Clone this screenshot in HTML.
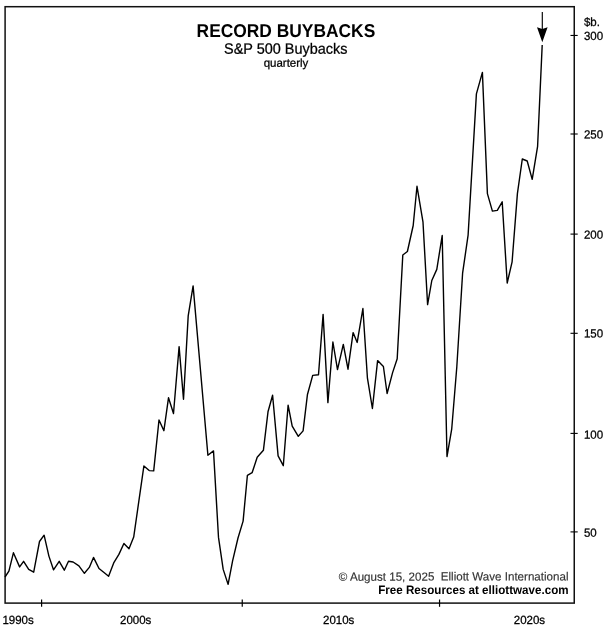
<!DOCTYPE html>
<html lang="en">
<head>
<meta charset="utf-8">
<title>Record Buybacks</title>
<style>
html,body{margin:0;padding:0;background:#fff;}
body{width:613px;height:633px;overflow:hidden;}
svg{display:block;}
text{font-family:"Liberation Sans",Arial,Helvetica,sans-serif;fill:#000;white-space:pre;}
</style>
</head>
<body>
<svg width="613" height="633" viewBox="0 0 613 633" role="img" aria-label="Record Buybacks chart">
<rect x="0" y="0" width="613" height="633" fill="#ffffff"/>
<rect x="5.1" y="6.7" width="569.15" height="596.4" fill="none" stroke="#111" stroke-width="1.5"/>
<line x1="570.5" y1="35.45" x2="577.7" y2="35.45" stroke="#000" stroke-width="1.1"/>
<line x1="570.5" y1="134.0" x2="577.7" y2="134.0" stroke="#000" stroke-width="1.1"/>
<line x1="570.5" y1="234.1" x2="577.7" y2="234.1" stroke="#000" stroke-width="1.1"/>
<line x1="570.5" y1="333.3" x2="577.7" y2="333.3" stroke="#000" stroke-width="1.1"/>
<line x1="570.5" y1="433.4" x2="577.7" y2="433.4" stroke="#000" stroke-width="1.1"/>
<line x1="570.5" y1="531.9" x2="577.7" y2="531.9" stroke="#000" stroke-width="1.1"/>
<line x1="41.6" y1="599.5" x2="41.6" y2="606.8" stroke="#000" stroke-width="1.2"/>
<line x1="242.25" y1="599.5" x2="242.25" y2="606.8" stroke="#000" stroke-width="1.2"/>
<line x1="439.55" y1="599.5" x2="439.55" y2="606.8" stroke="#000" stroke-width="1.2"/>
<polyline points="5.0,577.0 8.9,571.1 13.4,552.8 19.6,566.9 23.6,561.3 28.7,569.4 33.7,572.2 39.5,541.5 44.1,535.2 48.9,556.1 53.5,569.8 59.2,561.3 64.3,570.2 68.5,561.3 73.1,562.0 78.9,565.9 84.4,573.3 89.3,567.4 93.5,557.4 99.0,568.5 103.7,572.3 108.6,576.3 113.7,562.9 118.9,554.4 123.9,543.5 129.0,548.8 133.7,537.1 143.9,465.9 149.2,470.6 153.7,470.9 159.0,420.0 163.9,430.7 168.5,397.8 173.5,413.5 179.1,346.6 183.5,399.3 188.2,315.9 193.1,285.9 207.9,455.2 213.5,450.9 218.5,537.4 223.2,569.4 228.1,584.4 232.6,560.9 238.0,538.0 243.1,521.1 247.4,475.3 252.1,472.7 257.2,457.3 263.4,450.3 268.0,411.8 272.6,395.2 278.1,455.9 283.3,465.7 288.1,405.2 292.2,426.1 298.3,436.3 303.1,430.9 307.4,394.8 312.7,375.4 318.5,374.8 323.1,314.4 327.9,402.6 332.9,342.0 337.5,369.6 343.3,344.4 348.0,369.2 353.1,332.6 357.2,342.4 362.9,308.5 367.4,377.8 372.4,408.5 377.6,360.6 383.4,366.5 387.1,393.5 392.6,372.6 397.2,358.7 402.8,255.0 407.4,251.5 413.2,225.5 417.0,186.3 423.0,222.2 427.6,304.6 431.8,280.5 436.8,269.4 442.2,235.5 447.0,456.6 451.7,429.2 456.8,367.0 462.6,273.2 468.1,235.2 476.4,93.9 482.4,72.4 487.4,193.6 492.4,211.1 497.3,210.4 502.2,201.8 507.2,283.0 512.1,261.8 517.4,193.6 522.3,159.0 527.2,161.0 532.2,179.4 537.6,146.3 542.2,45.0" fill="none" stroke="#000" stroke-width="1.4" stroke-linejoin="round" stroke-linecap="butt"/>
<line x1="542.3" y1="12.1" x2="542.3" y2="32" stroke="#000" stroke-width="1.15"/>
<path d="M542.3 42.2 L537.0 27.3 L542.3 29.0 L547.6 27.3 Z" fill="#000"/>
<text transform="translate(285.9,37.0) rotate(0.05) scale(1,1.07)" font-size="17.4" text-anchor="middle" font-weight="bold" xml:space="preserve">RECORD BUYBACKS</text>
<text transform="translate(285.8,53.7) rotate(0.05) scale(1,1.04)" font-size="14.45" text-anchor="middle" stroke="#000" stroke-width="0.25" xml:space="preserve">S&amp;P 500 Buybacks</text>
<text transform="translate(286,66.8) rotate(0.05) scale(1,1.0)" font-size="11.5" text-anchor="middle" stroke="#000" stroke-width="0.25" xml:space="preserve">quarterly</text>
<text transform="translate(583.9,25.9) rotate(0.05) scale(1,1.04)" font-size="11.5" stroke="#000" stroke-width="0.25" xml:space="preserve">$b.</text>
<text transform="translate(583.9,40.1) rotate(0.05) scale(1,1.04)" font-size="11.5" stroke="#000" stroke-width="0.25" xml:space="preserve">300</text>
<text transform="translate(583.9,138.6) rotate(0.05) scale(1,1.04)" font-size="11.5" stroke="#000" stroke-width="0.25" xml:space="preserve">250</text>
<text transform="translate(583.9,238.7) rotate(0.05) scale(1,1.04)" font-size="11.5" stroke="#000" stroke-width="0.25" xml:space="preserve">200</text>
<text transform="translate(583.9,337.6) rotate(0.05) scale(1,1.04)" font-size="11.5" stroke="#000" stroke-width="0.25" xml:space="preserve">150</text>
<text transform="translate(583.9,438.7) rotate(0.05) scale(1,1.04)" font-size="11.5" stroke="#000" stroke-width="0.25" xml:space="preserve">100</text>
<text transform="translate(583.9,536.8) rotate(0.05) scale(1,1.04)" font-size="11.5" stroke="#000" stroke-width="0.25" xml:space="preserve">50</text>
<text transform="translate(2.4,624) rotate(0.05) scale(1,1.04)" font-size="11.5" stroke="#000" stroke-width="0.25" xml:space="preserve">1990s</text>
<text transform="translate(120.0,624) rotate(0.05) scale(1,1.04)" font-size="11.5" stroke="#000" stroke-width="0.25" xml:space="preserve">2000s</text>
<text transform="translate(323.0,624) rotate(0.05) scale(1,1.04)" font-size="11.5" stroke="#000" stroke-width="0.25" xml:space="preserve">2010s</text>
<text transform="translate(513.8,624) rotate(0.05) scale(1,1.04)" font-size="11.5" stroke="#000" stroke-width="0.25" xml:space="preserve">2020s</text>
<text transform="translate(568.5,580.5) rotate(-0.05) scale(1,1.02)" font-size="11.6" text-anchor="end" fill="#333" style="fill:#333" stroke="#333" stroke-width="0.15" xml:space="preserve">© August 15, 2025  Elliott Wave International</text>
<text transform="translate(568.6,593.9) rotate(-0.05) scale(1,1.05)" font-size="11.62" text-anchor="end" font-weight="bold" xml:space="preserve">Free Resources at elliottwave.com</text>
</svg>
</body>
</html>
